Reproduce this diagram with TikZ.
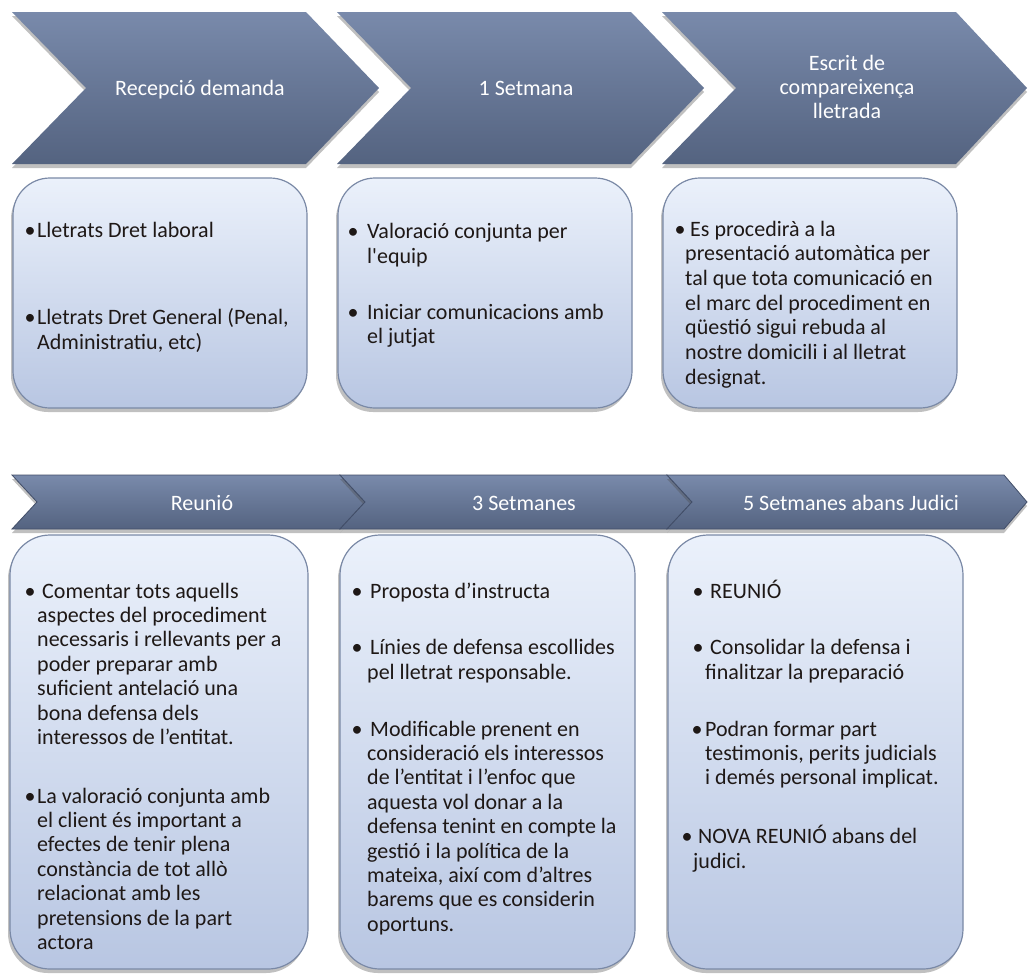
\documentclass[tikz,border=0pt]{standalone}
\usepackage{fontspec}
\setmainfont{Carlito}
\usetikzlibrary{shadows}
\definecolor{chevtop}{RGB}{121,138,171}
\definecolor{chevbot}{RGB}{84,99,128}
\definecolor{chevseam}{RGB}{66,78,104}
\definecolor{boxtop}{RGB}{235,241,251}
\definecolor{boxbot}{RGB}{184,198,226}
\definecolor{boxedge}{RGB}{122,137,166}
\definecolor{txt}{RGB}{30,24,22}
\tikzset{
  chev/.style={top color=chevtop, bottom color=chevbot,
    drop shadow={shadow xshift=0pt, shadow yshift=-4pt, opacity=.35, fill=black!70}},
  chevseg/.style={chev, draw=chevseam, line width=0.8pt, line join=miter},
  chevlbl/.style={text=white, font=\fontsize{22}{24}\selectfont, anchor=base, inner sep=0pt},
  panel/.style={top color=boxtop, bottom color=boxbot, draw=boxedge, line width=1.2pt,
    inner sep=0pt, outer sep=0pt,
    drop shadow={shadow xshift=-2pt, shadow yshift=-4pt, opacity=.35, fill=black!70}},
  ln/.style={text=txt, font=\fontsize{22}{24.5}\selectfont, anchor=base west, inner sep=0pt},
  bul/.style={text=txt, font=\fontsize{22}{24.5}\selectfont, anchor=base, inner sep=0pt}
}
\begin{document}
\begin{tikzpicture}[x=1pt,y=-1pt]
\useasboundingbox (0,0) rectangle (1028,978);
\fill[white] (0,0) rectangle (1028,978);

% top chevrons
\path[chev] (12,12) -- (306,12) -- (379,88) -- (306,164) -- (12,164) -- (86,88) -- cycle;
\path[chev] (337,12) -- (631,12) -- (704,88) -- (631,164) -- (337,164) -- (411,88) -- cycle;
\path[chev] (662,12) -- (956,12) -- (1027,88) -- (956,164) -- (662,164) -- (736,88) -- cycle;
\node[chevlbl] (c1) at (200,95) {Recepció demanda};
\node[chevlbl] (c2) at (526,95) {1 Setmana};
\node[chevlbl] (c3a) at (847,70) {Escrit de};
\node[chevlbl] (c3b) at (847,94) {compareixença};
\node[chevlbl] (c3c) at (847,118) {lletrada};

% top panels
\node[panel, rounded corners=37pt, minimum width=294pt, minimum height=230pt] (b1) at (160,293) {};
\node[panel, rounded corners=37pt, minimum width=294pt, minimum height=230pt] (b2) at (485,293) {};
\node[panel, rounded corners=37pt, minimum width=294pt, minimum height=230pt] (b3) at (810,293) {};

% panel 1 text
\node[bul] (p1b1) at (30,237) {•};
\node[ln] (p1l1) at (37,237) {Lletrats Dret laboral};
\node[bul] (p1b2) at (30,324) {•};
\node[ln] (p1l2) at (37,324) {Lletrats Dret General (Penal,};
\node[ln] (p1l3) at (37,349) {Administratiu, etc)};

% panel 2 text
\node[bul] (p2b1) at (353,238) {•};
\node[ln] (p2l1) at (367,238) {Valoració conjunta per};
\node[ln] (p2l2) at (367,263) {l\textquotesingle equip};
\node[bul] (p2b2) at (353,319) {•};
\node[ln] (p2l3) at (367,319) {Iniciar comunicacions amb};
\node[ln] (p2l4) at (367,343) {el jutjat};

% panel 3 text
\node[bul] (p3b1) at (680,236) {•};
\node[ln] (p3l1) at (690,236) {Es procedirà a la};
\node[ln] (p3l2) at (685,260.7) {presentació automàtica per};
\node[ln] (p3l3) at (685,285.4) {tal que tota comunicació en};
\node[ln] (p3l4) at (685,310.1) {el marc del procediment en};
\node[ln] (p3l5) at (685,334.8) {qüestió sigui rebuda al};
\node[ln] (p3l6) at (685,359.5) {nostre domicili i al lletrat};
\node[ln] (p3l7) at (685,384.2) {designat.};

% bottom chevron band
\path[chevseg] (12,475) -- (340,475) -- (365,502) -- (340,529) -- (12,529) -- (37,502) -- cycle;
\path[chevseg] (340,475) -- (667,475) -- (692,502) -- (667,529) -- (340,529) -- (365,502) -- cycle;
\path[chevseg] (667,475) -- (1004,475) -- (1027,502) -- (1004,529) -- (667,529) -- (692,502) -- cycle;
\node[chevlbl] (c4) at (202,510) {Reunió};
\node[chevlbl] (c5) at (524,510) {3 Setmanes};
\node[chevlbl] (c6) at (851,510) {5 Setmanes abans Judici};

% bottom panels
\node[panel, rounded corners=40pt, minimum width=298pt, minimum height=434pt] (b4) at (159,752) {};
\node[panel, rounded corners=40pt, minimum width=295pt, minimum height=434pt] (b5) at (487.5,752) {};
\node[panel, rounded corners=40pt, minimum width=295pt, minimum height=434pt] (b6) at (815.5,752) {};

% panel 4 text
\node[bul] (p4b1) at (30,598) {•};
\node[ln] (p4l1) at (42,598) {Comentar tots aquells};
\node[ln] (p4l2) at (37,622.4) {aspectes del procediment};
\node[ln] (p4l3) at (37,646.8) {necessaris i rellevants per a};
\node[ln] (p4l4) at (37,671.2) {poder preparar amb};
\node[ln] (p4l5) at (37,695.6) {suficient antelació una};
\node[ln] (p4l6) at (37,720) {bona defensa dels};
\node[ln] (p4l7) at (37,744.4) {interessos de l’entitat.};
\node[bul] (p4b2) at (30,803) {•};
\node[ln] (p4l8) at (37,803) {La valoració conjunta amb};
\node[ln] (p4l9) at (37,827.4) {el client és important a};
\node[ln] (p4l10) at (37,851.8) {efectes de tenir plena};
\node[ln] (p4l11) at (37,876.2) {constància de tot allò};
\node[ln] (p4l12) at (37,900.6) {relacionat amb les};
\node[ln] (p4l13) at (37,925) {pretensions de la part};
\node[ln] (p4l14) at (37,949.4) {actora};

% panel 5 text
\node[bul] (p5b1) at (357,598) {•};
\node[ln] (p5l1) at (370,598) {Proposta d’instructa};
\node[bul] (p5b2) at (357,654) {•};
\node[ln] (p5l2) at (370,654) {Línies de defensa escollides};
\node[ln] (p5l3) at (367,679) {pel lletrat responsable.};
\node[bul] (p5b3) at (357,736) {•};
\node[ln] (p5l4) at (370,736) {Modificable prenent en};
\node[ln] (p5l5) at (367,760.4) {consideració els interessos};
\node[ln] (p5l6) at (367,784.8) {de l’entitat i l’enfoc que};
\node[ln] (p5l7) at (367,809.2) {aquesta vol donar a la};
\node[ln] (p5l8) at (367,833.6) {defensa tenint en compte la};
\node[ln] (p5l9) at (367,858) {gestió i la política de la};
\node[ln] (p5l10) at (367,882.4) {mateixa, així com d’altres};
\node[ln] (p5l11) at (367,906.8) {barems que es considerin};
\node[ln] (p5l12) at (367,931.2) {oportuns.};

% panel 6 text
\node[bul] (p6b1) at (698,598) {•};
\node[ln] (p6l1) at (710,598) {REUNIÓ};
\node[bul] (p6b2) at (698,654) {•};
\node[ln] (p6l2) at (710,654) {Consolidar la defensa i};
\node[ln] (p6l3) at (705,679) {finalitzar la preparació};
\node[bul] (p6b3) at (697,736) {•};
\node[ln] (p6l4) at (705,736) {Podran formar part};
\node[ln] (p6l5) at (705,760.4) {testimonis, perits judicials};
\node[ln] (p6l6) at (705,784.8) {i demés personal implicat.};
\node[bul] (p6b4) at (687,843) {•};
\node[ln] (p6l7) at (698,843) {NOVA REUNIÓ abans del};
\node[ln] (p6l8) at (693,868) {judici.};
\end{tikzpicture}
\end{document}
